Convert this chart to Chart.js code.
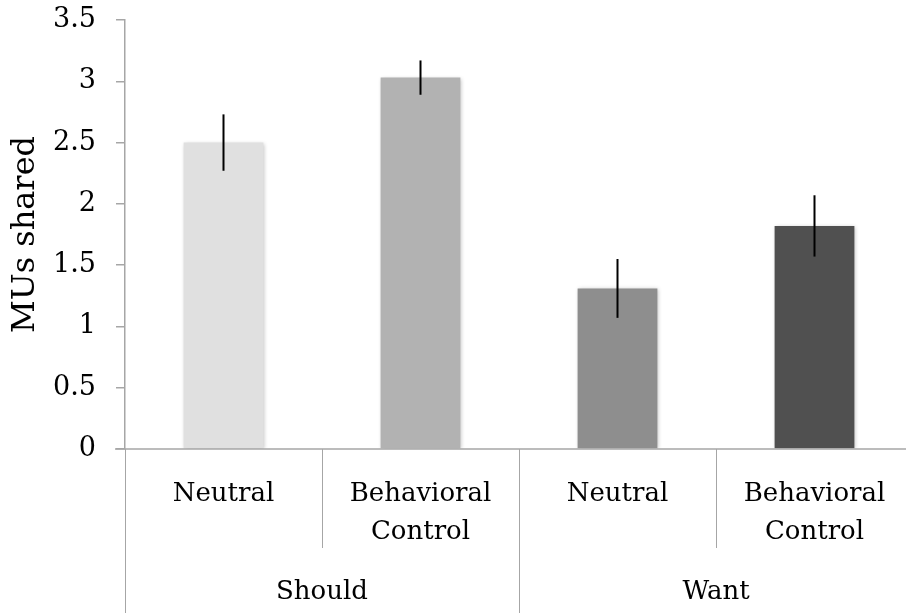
<!DOCTYPE html>
<html>
<head>
<meta charset="utf-8">
<script src="https://cdn.jsdelivr.net/npm/chart.js@4.4.1/dist/chart.umd.min.js"></script>
<style>
  html, body { margin: 0; padding: 0; background: #fff; overflow: hidden; }
  #wrap { width: 913px; height: 613px; position: relative; }
</style>
</head>
<body>
<div id="wrap"><canvas id="myChart"></canvas></div>
<script>
const categoryLabels = [['Neutral'], ['Behavioral', 'Control'], ['Neutral'], ['Behavioral', 'Control']];
const groupLabels = ['Should', 'Want'];
const means = [2.5, 3.03, 1.31, 1.82];
const errors = [0.23, 0.14, 0.24, 0.25];
const barColors = ['#e0e0e0', '#b2b2b2', '#8e8e8e', '#505050'];

const axisColor = '#a6a6a6';
const textFont = '26px "DejaVu Serif"';

// error bars, x axis line, labels and separators
const extras = {
  id: 'extras',
  beforeDatasetsDraw(chart) {
    const ctx = chart.ctx;
    ctx.save();
    ctx.shadowColor = 'rgba(0,0,0,0.25)';
    ctx.shadowBlur = 4;
    ctx.shadowOffsetX = 1;
    ctx.shadowOffsetY = 1;
  },
  afterDatasetsDraw(chart) {
    const ctx = chart.ctx;
    ctx.restore();
    const x = chart.scales.x, y = chart.scales.y;
    const area = chart.chartArea;

    ctx.save();
    ctx.strokeStyle = '#000';
    ctx.lineWidth = 2;
    means.forEach((m, i) => {
      const px = x.getPixelForValue(i);
      ctx.beginPath();
      ctx.moveTo(px, y.getPixelForValue(m + errors[i]));
      ctx.lineTo(px, y.getPixelForValue(m - errors[i]));
      ctx.stroke();
    });

    // x axis line
    const y0 = y.getPixelForValue(0);
    ctx.strokeStyle = axisColor;
    ctx.lineWidth = 1.5;
    ctx.beginPath();
    ctx.moveTo(area.left - 10, y0);
    ctx.lineTo(area.right, y0);
    ctx.stroke();

    // separators
    const half = (x.getPixelForValue(1) - x.getPixelForValue(0)) / 2;
    ctx.lineWidth = 1;
    ctx.beginPath();
    for (let i = 0; i <= categoryLabels.length; i++) {
      const sx = Math.round(x.getPixelForValue(0) - half + i * 2 * half) + 0.5;
      const full = i % 2 === 0;
      ctx.moveTo(sx, y0);
      ctx.lineTo(sx, full ? chart.height : y0 + 99);
    }
    ctx.stroke();

    // labels
    ctx.fillStyle = '#000';
    ctx.font = textFont;
    ctx.textAlign = 'center';
    ctx.textBaseline = 'alphabetic';
    categoryLabels.forEach((lines, i) => {
      const px = x.getPixelForValue(i);
      lines.forEach((t, j) => ctx.fillText(t, px, y0 + 52 + j * 38));
    });
    groupLabels.forEach((g, k) => {
      const px = (x.getPixelForValue(2 * k) + x.getPixelForValue(2 * k + 1)) / 2;
      ctx.fillText(g, px, y0 + 150);
    });
    ctx.restore();
  }
};

new Chart(document.getElementById('myChart'), {
  type: 'bar',
  data: {
    labels: categoryLabels,
    datasets: [{
      data: means,
      backgroundColor: barColors,
      borderWidth: 0,
      barPercentage: 0.405,
      categoryPercentage: 1
    }]
  },
  options: {
    responsive: true,
    maintainAspectRatio: false,
    animation: false,
    layout: { padding: { left: 0, top: 20, right: 0, bottom: 164 } },
    plugins: {
      legend: { display: false },
      tooltip: { enabled: false }
    },
    scales: {
      x: { display: false },
      y: {
        min: 0,
        max: 3.5,
        afterFit(s) { s.width = 125; s.paddingTop = 0; s.paddingBottom = 0; },
        border: { color: axisColor, width: 1.5 },
        grid: { drawOnChartArea: false, color: axisColor, tickLength: 9, lineWidth: 1.5 },
        ticks: {
          stepSize: 0.5,
          padding: 20,
          color: '#000',
          font: { family: 'DejaVu Serif', size: 27 },
          callback: v => String(v)
        },
        title: {
          display: true,
          text: 'MUs shared',
          color: '#000',
          font: { family: 'DejaVu Serif', size: 32 },
          padding: { top: 6, bottom: 0 }
        }
      }
    }
  },
  plugins: [extras]
});
</script>
</body>
</html>
